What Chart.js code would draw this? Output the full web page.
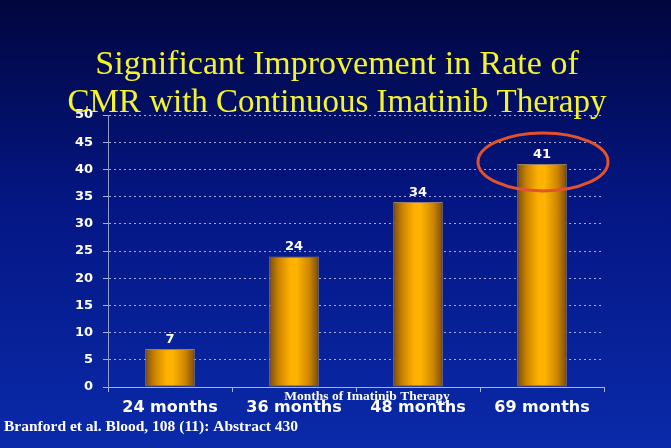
<!DOCTYPE html>
<html>
<head>
<meta charset="utf-8">
<script src="https://cdn.jsdelivr.net/npm/chart.js"></script>
<style>
  html, body { margin: 0; padding: 0; }
  body { width: 671px; height: 448px; overflow: hidden;
         background: linear-gradient(to bottom, #01063e 0%, #041683 45%, #0a2aaa 100%); }
  #wrap { position: relative; width: 671px; height: 448px; }
</style>
</head>
<body>
<div id="wrap"><canvas id="chart" width="671" height="448"></canvas></div>
<script>
// data
const categories = ['24 months', '36 months', '48 months', '69 months'];
const cmrRates = [7, 24, 34, 41];
const yTicks = [0, 5, 10, 15, 20, 25, 30, 35, 40, 45, 50];
const titleLines = ['Significant Improvement in Rate of', 'CMR with Continuous Imatinib Therapy'];
const axisTitle = 'Months of Imatinib Therapy';
const citation = 'Branford et al. Blood, 108 (11): Abstract 430';
const highlightIndex = 3;

const sansBold = '"DejaVu Sans", Verdana, sans-serif';
const serif = '"Liberation Serif", "Times New Roman", serif';

// bar gradient, computed per bar from the x scale
function barGradient(ctx) {
    const chart = ctx.chart;
    const x = chart.scales.x;
    if (!chart.chartArea || !x || ctx.dataIndex === undefined) return '#f0a000';
    const cx = x.getPixelForValue(ctx.dataIndex);
    const step = x.getPixelForValue(1) - x.getPixelForValue(0);
    const w = step * 0.4 / 2;
    const g = chart.ctx.createLinearGradient(cx - w, 0, cx + w, 0);
    g.addColorStop(0, '#7a4d10');
    g.addColorStop(0.18, '#c88200');
    g.addColorStop(0.42, '#ffb000');
    g.addColorStop(0.55, '#ffb400');
    g.addColorStop(0.8, '#d08800');
    g.addColorStop(1, '#7a4d10');
    return g;
}

// texts, value labels and the highlight ellipse
const decorations = {
    id: 'decorations',
    afterDatasetsDraw(chart) {
        const ctx = chart.ctx;
        const meta = chart.getDatasetMeta(0);
        ctx.save();
        ctx.fillStyle = '#ffffff';
        ctx.font = 'bold 13px ' + sansBold;
        ctx.textAlign = 'center';
        ctx.textBaseline = 'alphabetic';
        meta.data.forEach((bar, i) => {
            ctx.fillText(String(cmrRates[i]), bar.x, bar.y - 6);
        });
        // ellipse around the last bar's value
        const hb = meta.data[highlightIndex];
        ctx.strokeStyle = '#e2522c';
        ctx.lineWidth = 3;
        ctx.beginPath();
        ctx.ellipse(hb.x + 1, hb.y - 2, 65, 29, 0, 0, Math.PI * 2);
        ctx.stroke();
        ctx.restore();
    },
    afterDraw(chart) {
        const ctx = chart.ctx;
        ctx.save();
        ctx.fillStyle = '#f4f42a';
        ctx.font = '34px ' + serif;
        ctx.textAlign = 'center';
        ctx.textBaseline = 'alphabetic';
        ctx.fillText(titleLines[0], 337, 74);
        ctx.font = '33px ' + serif;
        ctx.fillText(titleLines[1], 337, 112);

        ctx.fillStyle = '#ffffff';
        ctx.font = 'bold 13.5px ' + serif;
        ctx.fillText(axisTitle, 367, 400);

        ctx.textAlign = 'left';
        ctx.font = 'bold 15.5px ' + serif;
        ctx.fillText(citation, 4, 431);
        ctx.restore();
    }
};

new Chart(document.getElementById('chart'), {
    type: 'bar',
    data: {
        labels: categories,
        datasets: [{
            data: cmrRates,
            backgroundColor: barGradient,
            borderColor: '#9a8060',
            borderWidth: 1,
            categoryPercentage: 0.4,
            barPercentage: 1
        }]
    },
    options: {
        responsive: false,
        animation: false,
        events: [],
        layout: { padding: { top: 115, right: 67, left: 0, bottom: 0 } },
        plugins: { legend: { display: false }, tooltip: { enabled: false } },
        scales: {
            x: {
                afterFit(s) { s.height = 61; },
                border: { color: '#a8b4d8', width: 1 },
                grid: { display: true, drawOnChartArea: false, offset: true, tickLength: 5, color: '#a8b4d8' },
                ticks: {
                    color: '#ffffff', padding: 6,
                    font: { family: sansBold, size: 16, weight: 'bold' }
                }
            },
            y: {
                min: 0, max: 50,
                afterFit(s) { s.width = 108; },
                afterBuildTicks(s) { s.ticks = yTicks.map(v => ({ value: v })); },
                border: { color: '#8f9cc8', width: 1, dash: [2, 3] },
                grid: {
                    color: 'rgba(200,210,245,0.8)', tickLength: 5,
                    tickColor: '#a8b4d8', tickBorderDash: [2, 0]
                },
                ticks: {
                    color: '#ffffff', padding: 10,
                    font: { family: sansBold, size: 13, weight: 'bold' }
                }
            }
        },
        elements: { bar: { borderSkipped: false } }
    },
    plugins: [decorations]
});
</script>
</body>
</html>
